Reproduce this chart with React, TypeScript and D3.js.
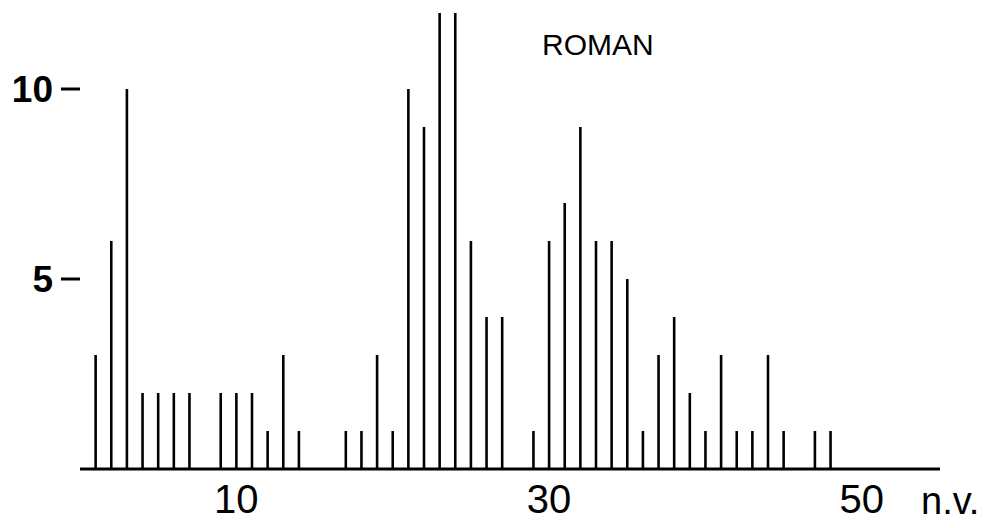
import * as d3 from "d3"

// number of variants (n.v.) and how many cases show each
const variants = [
  1, 2, 3, 4, 5, 6, 7, 9, 10, 11, 12, 13, 14,
  17, 18, 19, 20, 21, 22, 23, 24, 25, 26, 27,
  29, 30, 31, 32, 33, 34, 35, 36, 37, 38, 39, 40,
  41, 42, 43, 44, 45, 47, 48,
]
const counts = [
  3, 6, 10, 2, 2, 2, 2, 2, 2, 2, 1, 3, 1,
  1, 1, 3, 1, 10, 9, 12, 12, 6, 4, 4,
  1, 6, 7, 9, 6, 6, 5, 1, 3, 4, 2, 1,
  3, 1, 1, 3, 1, 1, 1,
]
const xTicks = [10, 30, 50]
const yTicks = [5, 10]
const title = "ROMAN"
const xLabel = "n.v."

const width = 986
const height = 528

export default function App() {
  const x = d3.scaleLinear().domain([0, 55]).range([80, 940])
  const y = d3.scaleLinear().domain([0, 10]).range([469, 89])
  const data = variants.map((v, i) => ({ v, c: counts[i] }))

  return (
    <div style={{ position: "absolute", left: 0, top: 0 }}>
      <svg width={width} height={height} style={{ display: "block", background: "#fff" }}>
        <g fontFamily="'Liberation Sans', Arial, sans-serif" fill="#000">
          {/* baseline */}
          <line x1={x(0)} x2={x(55)} y1={y(0)} y2={y(0)} stroke="#000" strokeWidth={2.8} />

          {/* bars */}
          {data.map(d => (
            <line
              key={d.v}
              x1={x(d.v)}
              x2={x(d.v)}
              y1={y(0)}
              y2={y(d.c)}
              stroke="#000"
              strokeWidth={2.6}
            />
          ))}

          {/* y ticks */}
          {yTicks.map(t => (
            <g key={t}>
              <text x={53} y={y(t)} dy="0.36em" textAnchor="end" fontSize={37} fontWeight="bold">
                {t}
              </text>
              <line x1={61} x2={80} y1={y(t)} y2={y(t)} stroke="#000" strokeWidth={3} />
            </g>
          ))}

          {/* x ticks */}
          {xTicks.map(t => (
            <text key={t} x={x(t)} y={513} textAnchor="middle" fontSize={40}>
              {t}
            </text>
          ))}

          <text x={921} y={514} fontSize={38}>{xLabel}</text>
          <text x={542} y={55} fontSize={30}>{title}</text>
        </g>
      </svg>
    </div>
  )
}
